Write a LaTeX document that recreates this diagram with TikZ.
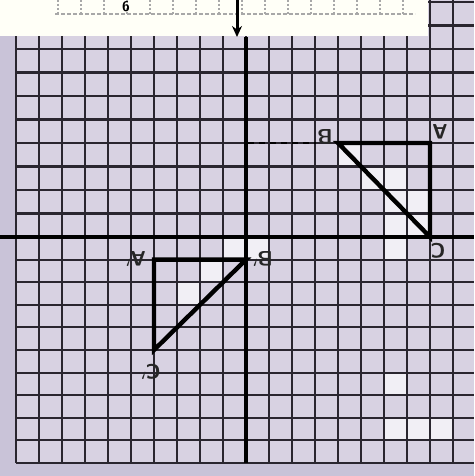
\documentclass[tikz,border=0pt]{standalone}
\usepackage{graphicx}
\usetikzlibrary{arrows.meta}
\definecolor{paper}{HTML}{C9C3D8}
\definecolor{cell}{HTML}{D8D2E2}
\definecolor{gline}{HTML}{2A262F}
\definecolor{faint}{HTML}{A8A8A8}
\tikzset{
  gridline/.style={gline, line width=2.1pt},
  axis/.style={black, line width=3.4pt},
  tri/.style={black, line width=4.4pt, line join=miter},
  lab/.style={font=\sffamily\bfseries\fontsize{21}{24}\selectfont, rotate=180, inner sep=1pt, text=black!85},
  whitecell/.style={fill=white!65!cell, draw=none},
}
\begin{document}
\begin{tikzpicture}[x=1pt,y=-1pt]
\useasboundingbox (0,0) rectangle (474,476);
\clip (0,0) rectangle (474,476);
\fill[paper] (0,0) rectangle (474,476);
\fill[cell] (16,0) rectangle (474,463);
% whiter cells (photo highlights)
\foreach \i/\j in {14/3,15/2,16/2,16/1,17/1,16/0,17/0}{
  \fill[whitecell] (16+23*\i,237-23.5*\j-23.5) rectangle (16+23*\i+23,237-23.5*\j);
}
\foreach \i/\k in {16/0,9/0,10/0,8/1,7/2,16/6,16/8,17/8,18/8}{
  \fill[whitecell] (16+23*\i,237+22.6*\k) rectangle (16+23*\i+23,237+22.6*\k+22.6);
}
% grid
\foreach \i in {0,...,20}{ \draw[gridline] (16+23*\i,0) -- (16+23*\i,463); }
\foreach \j in {1,...,10}{ \draw[gridline] (16,237-23.5*\j) -- (474,237-23.5*\j); }
\foreach \k in {1,...,10}{ \draw[gridline] (16,237+22.6*\k) -- (474,237+22.6*\k); }
% axes
\draw[axis] (0,237) -- (474,237);
\draw[axis] (246,37) -- (246,463);
% top white band
\fill[white!97!yellow] (0,0) rectangle (428,36);
\draw[faint, line width=1.4pt, dash pattern=on 4pt off 2pt] (55,14) -- (415,14);
\foreach \t in {0,...,15}{
  \draw[faint, line width=1.4pt, dash pattern=on 2pt off 2pt] (58+23*\t,0) -- (58+23*\t,14);
}
\node[font=\sffamily\bfseries\fontsize{14}{16}\selectfont, inner sep=0pt] (topglyph) at (126,7) {6};
% arrow
\coordinate (arrtop) at (237,0);
\coordinate (arrtip) at (237,37);
\draw[black, line width=3pt, -{Stealth[length=11pt,width=10pt]}] (arrtop) -- (arrtip);
% right triangle
\coordinate (A) at (430,143);
\coordinate (B) at (338,143);
\coordinate (C) at (430,237);
\coordinate (yB) at (248,143);
\coordinate (dEnd) at (316,143);
\draw[black, line width=2.8pt, dash pattern=on 6pt off 5pt] (yB) -- (dEnd);
\draw[tri] (B) -- (A) -- (C) -- cycle;
\node[lab] (labB) at (325,137) {B};
\node[lab] (labA) at (440,132) {A};
\node[lab] (labC) at (438,251) {C};
% left triangle
\coordinate (A1) at (154,259.6);
\coordinate (B1) at (246,259.6);
\coordinate (C1) at (154,350);
\draw[tri] (A1) -- (B1) -- (C1) -- cycle;
\node[lab] (labA1) at (136,259) {A$'$};
\node[lab] (labB1) at (263,259) {B$'$};
\node[lab] (labC1) at (151,372) {C$'$};
\end{tikzpicture}
\end{document}
